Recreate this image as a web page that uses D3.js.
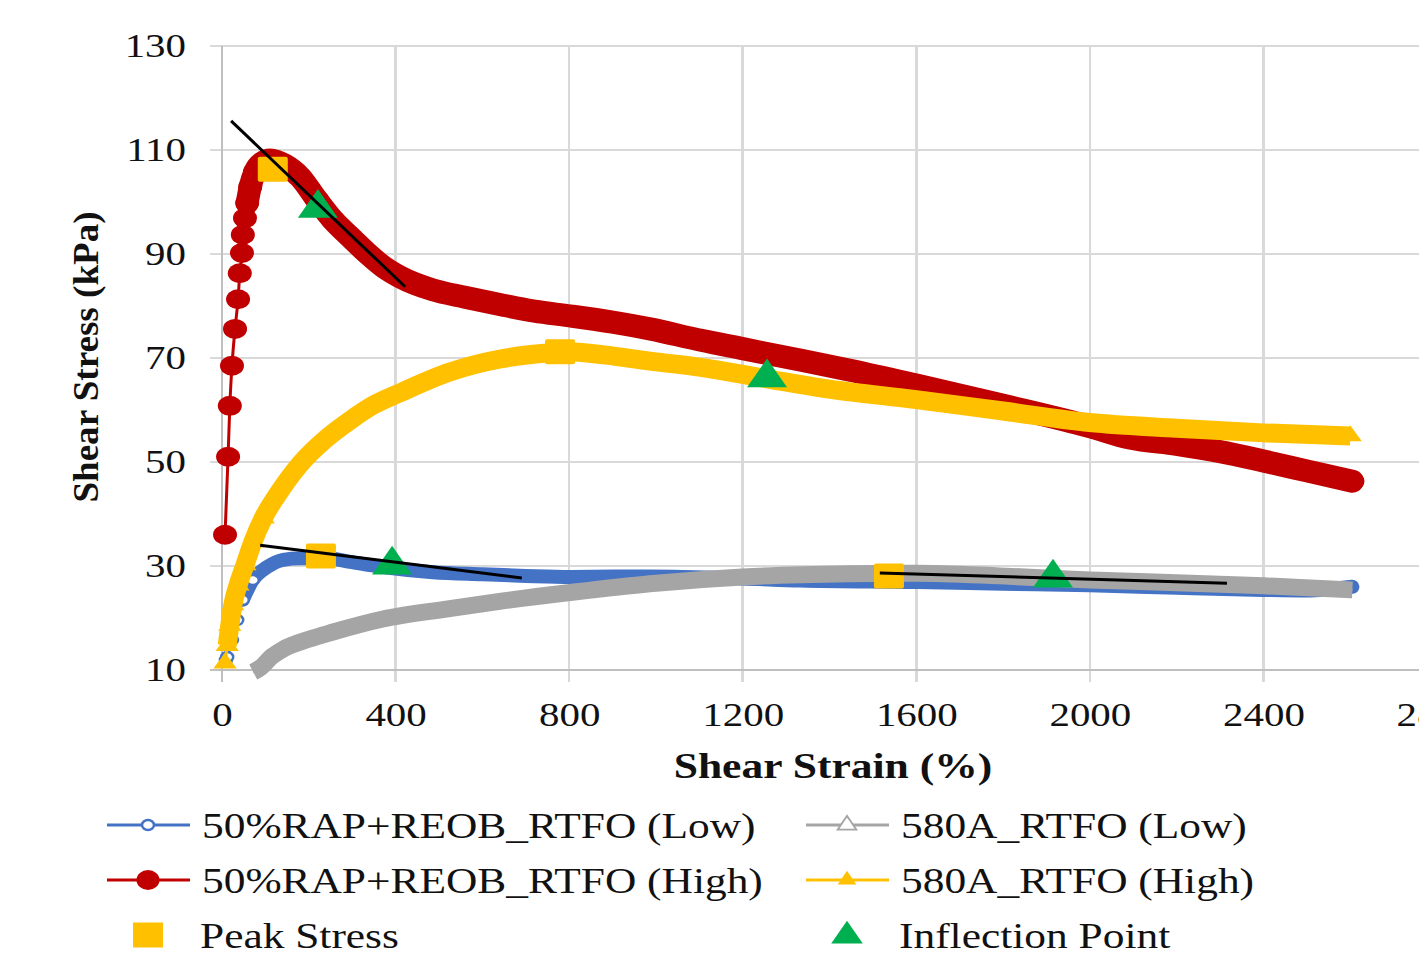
<!DOCTYPE html>
<html lang="en">
<head>
<meta charset="UTF-8">
<title>Shear Stress vs Shear Strain</title>
<style>
    body { margin: 0; background: #fff; }
    svg { display: block; font-family: "Liberation Serif", "Times New Roman", serif; }
    .grid line { stroke: #d9d9d9; stroke-width: 2.5; shape-rendering: crispEdges; }
    .axis path { display: none; }
    .axis line { stroke: #d9d9d9; stroke-width: 2.5; shape-rendering: crispEdges; }
    .axis text { font-family: "Liberation Serif", serif; font-size: 33px; fill: #111; }
    .title { font-weight: bold; font-size: 36px; fill: #111; }
    .legend text { font-size: 35px; fill: #111; }
</style>
</head>
<body>
<svg id="chart" width="1419" height="959"></svg>
<script src="https://cdn.jsdelivr.net/npm/d3@7"></script>
<script>
// axis ticks
const x_ticks = [0, 400, 800, 1200, 1600, 2000, 2400, 2800];
const y_ticks = [10, 30, 50, 70, 90, 110, 130];

// [shear strain %, shear stress kPa]
const rap_low = [
    [9, 11.9], [12, 12.5], [23, 15.8], [35, 19.6], [48, 23.5], [71, 27.3], [104, 29.8],
    [141, 31.2], [180, 31.5], [242, 31.5], [295, 30.8], [371, 29.8], [486, 28.8],
    [600, 28.4], [700, 28.1], [802, 27.9], [986, 28.0], [1200, 27.6], [1332, 27.2],
    [1600, 26.9], [1800, 26.6], [2000, 26.3], [2200, 25.8], [2400, 25.4], [2500, 25.3], [2605, 26.0]
];
const rap_high = [
    [7, 36.0], [14, 51.0], [18, 60.8], [23, 68.5], [30, 75.6], [37, 81.3], [41, 86.3],
    [46, 90.2], [48, 93.7], [53, 96.9], [58, 99.8], [65, 102.9], [76, 105.8], [92, 107.5],
    [111, 108.1], [145, 107.1], [180, 104.8], [219, 100.4], [256, 96.5], [295, 93.3],
    [334, 90.2], [371, 87.6], [410, 85.6], [486, 83.1], [560, 81.7], [640, 80.3], [720, 79.0],
    [802, 78.1], [900, 76.9], [986, 75.6], [1104, 73.4], [1200, 71.8], [1332, 69.6], [1450, 67.6],
    [1600, 64.8], [1800, 60.9], [2000, 56.8], [2092, 54.6], [2200, 53.4], [2300, 52.0],
    [2400, 50.2], [2500, 48.3], [2605, 46.3]
];
const s580_low = [
    [72, 9.6], [88, 10.4], [115, 12.6], [141, 14.0], [200, 15.9], [256, 17.3], [371, 19.8],
    [525, 21.8], [640, 23.2], [802, 24.9], [986, 26.6], [1200, 27.9], [1447, 28.5], [1600, 28.6],
    [1793, 28.1], [2000, 27.3], [2200, 26.8], [2400, 26.2], [2605, 25.4]
];
const s580_high = [
    [7, 11.3], [12, 14.7], [18, 18.6], [25, 22.5], [37, 26.3], [53, 30.2], [71, 34.6],
    [95, 39.2], [127, 43.6], [180, 49.6], [240, 54.5], [295, 58.0], [350, 61.0], [410, 63.3],
    [525, 67.3], [641, 69.8], [756, 71.0], [795, 71.2], [880, 70.6], [986, 69.4],
    [1104, 68.2], [1256, 66.0], [1400, 64.0], [1600, 62.0], [1800, 59.8], [2000, 57.6],
    [2200, 56.5], [2400, 55.6], [2600, 55.0]
];

// marked points
const peak_strain = [117, 779, 228, 1537];
const peak_stress = [106.3, 71.2, 31.9, 28.1];
const inflection_strain = [221, 1256, 392, 1915];
const inflection_stress = [98.8, 66.2, 30.2, 27.7];

// tangent lines [strain0, stress0, strain1, stress1]
const tangents = [
    [21, 115.6, 422, 83.7],
    [88, 34.0, 691, 27.7],
    [1516, 28.65, 2316, 26.7]
];

const legend_labels = [
    '50%RAP+REOB_RTFO (Low)', '580A_RTFO (Low)',
    '50%RAP+REOB_RTFO (High)', '580A_RTFO (High)',
    'Peak Stress', 'Inflection Point'
];

const blue = '#4472c4', red = '#c00000', gray = '#a5a5a5', gold = '#ffc000', green = '#00b050';

const svg = d3.select('#chart');
const x_scale = d3.scaleLinear([0, 2800], [222, 1437]);
const y_scale = d3.scaleLinear([10, 130], [670, 46]);

// stretch glyphs horizontally like the source picture
function stretch(sel, k) {
    sel.each(function () {
        const w = this.getComputedTextLength();
        this.setAttribute('textLength', w * k);
        this.setAttribute('lengthAdjust', 'spacingAndGlyphs');
    });
}

// grid
const grid = svg.append('g').attr('class', 'grid');
grid.selectAll('line.h').data(y_ticks).enter().append('line')
    .attr('x1', 210).attr('x2', 1437)
    .attr('y1', d => y_scale(d)).attr('y2', d => y_scale(d));
grid.selectAll('line.v').data(x_ticks).enter().append('line')
    .attr('y1', 46).attr('y2', 682)
    .attr('x1', d => x_scale(d)).attr('x2', d => x_scale(d));
grid.append('line').attr('x1', 222).attr('x2', 222).attr('y1', 46).attr('y2', 682)
    .style('stroke', '#bfbfbf');
grid.append('line').attr('x1', 210).attr('x2', 1437).attr('y1', 670).attr('y2', 670)
    .style('stroke', '#bfbfbf');

// axes (labels only, grid drawn above)
const x_axis = d3.axisBottom(x_scale).tickValues(x_ticks).tickFormat(d3.format('d'))
    .tickSize(0).tickPadding(33);
const y_axis = d3.axisLeft(y_scale).tickValues(y_ticks).tickSize(0).tickPadding(36);
svg.append('g').attr('class', 'axis').attr('transform', 'translate(0,670)').call(x_axis);
svg.append('g').attr('class', 'axis').attr('transform', 'translate(222,0)').call(y_axis);
stretch(svg.selectAll('.axis text'), 1.24);

svg.append('text').attr('class', 'title')
    .attr('x', 833).attr('y', 778).attr('text-anchor', 'middle')
    .text('Shear Strain (%)')
    .call(stretch, 1.21);
svg.append('text').attr('class', 'title')
    .attr('transform', 'translate(98,357) rotate(-90)').attr('text-anchor', 'middle')
    .text('Shear Stress (kPa)')
    .call(stretch, 1.03);

const line = d3.line().x(d => x_scale(d[0])).y(d => y_scale(d[1])).curve(d3.curveMonotoneX);
const plot = svg.append('g');

function band(data, color, width, from, cap) {
    plot.append('path').datum(data).attr('d', line)
        .attr('fill', 'none').attr('stroke', color).attr('stroke-width', 3);
    plot.append('path').datum(data.slice(from)).attr('d', line)
        .attr('fill', 'none').attr('stroke', color).attr('stroke-width', width)
        .attr('stroke-linejoin', 'round').attr('stroke-linecap', cap);
}

// 50%RAP low: open circles
band(rap_low, blue, 14, 4, 'round');
plot.selectAll(null).data(rap_low.slice(0, 6)).enter().append('ellipse')
    .attr('cx', d => x_scale(d[0])).attr('cy', d => y_scale(d[1]))
    .attr('rx', 6).attr('ry', 5).attr('fill', '#fff').attr('stroke', blue).attr('stroke-width', 2.5);

// 580A low: gray band
band(s580_low, gray, 17, 0, 'butt');

// 50%RAP high: filled circles
band(rap_high, red, 23, 10, 'round');
plot.selectAll(null).data(rap_high).enter().append('ellipse')
    .attr('cx', d => x_scale(d[0])).attr('cy', d => y_scale(d[1]))
    .attr('rx', 12).attr('ry', 10).attr('fill', red);

// 580A high: filled triangles
band(s580_high, gold, 19, 1, 'butt');
const tri_small = d3.symbol().type(d3.symbolTriangle).size(150);
plot.selectAll(null).data(s580_high.slice(0, 8).concat([s580_high[s580_high.length - 1]])).enter().append('path')
    .attr('d', tri_small)
    .attr('transform', d => `translate(${x_scale(d[0])},${y_scale(d[1])}) scale(1.25,1)`)
    .attr('fill', gold);

// peak squares
plot.selectAll(null).data(peak_strain).enter().append('rect')
    .attr('x', d => x_scale(d) - 15).attr('y', (d, i) => y_scale(peak_stress[i]) - 12.5)
    .attr('width', 30).attr('height', 25).attr('rx', 2).attr('fill', gold);

// inflection triangles
const tri_big = d3.symbol().type(d3.symbolTriangle).size(480);
plot.selectAll(null).data(inflection_strain).enter().append('path')
    .attr('d', tri_big)
    .attr('transform', (d, i) => `translate(${x_scale(d)},${y_scale(inflection_stress[i])}) scale(1.2,1)`)
    .attr('fill', green);

// tangents
plot.selectAll(null).data(tangents).enter().append('line')
    .attr('x1', d => x_scale(d[0])).attr('y1', d => y_scale(d[1]))
    .attr('x2', d => x_scale(d[2])).attr('y2', d => y_scale(d[3]))
    .attr('stroke', '#000').attr('stroke-width', 3);

// legend
const legend = svg.append('g').attr('class', 'legend');
const col_x = [107, 806];
const row_y = [825, 880, 935];
legend_labels.forEach((label, i) => {
    const cx = col_x[i % 2];
    const cy = row_y[Math.floor(i / 2)];
    const g = legend.append('g').attr('transform', `translate(${cx},${cy})`);
    const mid = 41;
    if (i === 0) {
        g.append('line').attr('x1', 0).attr('x2', 83).attr('stroke', blue).attr('stroke-width', 3);
        g.append('ellipse').attr('cx', mid).attr('rx', 6).attr('ry', 5).attr('fill', '#fff')
            .attr('stroke', blue).attr('stroke-width', 2.5);
    } else if (i === 1) {
        g.append('line').attr('x1', 0).attr('x2', 83).attr('stroke', gray).attr('stroke-width', 3);
        g.append('path').attr('d', tri_small).attr('transform', `translate(${mid},0) scale(1.0,0.85)`)
            .attr('fill', '#fff').attr('stroke', gray).attr('stroke-width', 2);
    } else if (i === 2) {
        g.append('line').attr('x1', 0).attr('x2', 83).attr('stroke', red).attr('stroke-width', 3);
        g.append('ellipse').attr('cx', mid).attr('rx', 11.5).attr('ry', 10).attr('fill', red);
    } else if (i === 3) {
        g.append('line').attr('x1', 0).attr('x2', 83).attr('stroke', gold).attr('stroke-width', 3);
        g.append('path').attr('d', tri_small).attr('transform', `translate(${mid},0) scale(1.0,0.85)`)
            .attr('fill', gold);
    } else if (i === 4) {
        g.append('rect').attr('x', mid - 15).attr('y', -12.5).attr('width', 30).attr('height', 25)
            .attr('fill', gold);
    } else {
        g.append('path').attr('d', d3.symbol().type(d3.symbolTriangle).size(300))
            .attr('transform', `translate(${mid},1) scale(1.2,1)`).attr('fill', green);
    }
    g.append('text').attr('x', i >= 4 ? 93 : 95).attr('y', 13).text(label).call(stretch, 1.24);
});
</script>
</body>
</html>
